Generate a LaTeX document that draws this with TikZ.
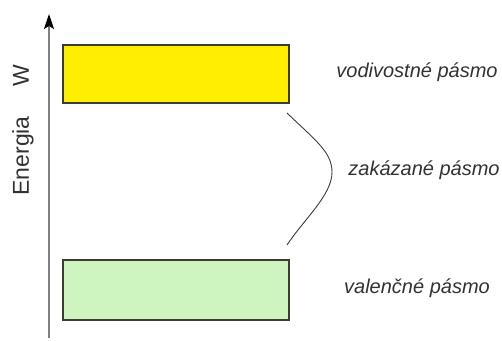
\documentclass[tikz,border=0pt]{standalone}
\usepackage{fontspec}
\setmainfont{Liberation Sans}
\usetikzlibrary{arrows.meta}
\definecolor{bandyellow}{RGB}{255,238,0}
\definecolor{bandgreen}{RGB}{206,245,192}
\definecolor{edgegray}{RGB}{60,60,55}
\definecolor{txtgray}{RGB}{50,50,50}

\begin{document}
\begin{tikzpicture}[x=1pt,y=-1pt,
	band/.style={draw=edgegray, line width=1.1pt, minimum width=226pt, inner sep=0pt},
	lbl/.style={font=\fontsize{20}{24}\selectfont\itshape, text=txtgray, inner sep=0pt}]
	
	\useasboundingbox (0,0) rectangle (502,340);
	
	% os energie
	\coordinate (a0) at (49,338);
	\coordinate (a1) at (49,14);
	\draw [gray, line width=1.3pt, -{Stealth[length=15pt,width=10pt,inset=3pt,black]}] (a0) -- (a1);
	\node [rotate=90, font=\fontsize{23}{26}\selectfont, text=txtgray, inner sep=0pt] (en) at (23,130) {Energia\hspace{30pt}W};
	
	% pasma
	\node [band, fill=bandyellow, minimum height=58pt] (vod) at (176,74) {};
	\node [band, fill=bandgreen, minimum height=60pt] (val) at (176,290) {};
	
	\node [lbl] (tvod) at (417,72) {vodivostné pásmo};
	\node [lbl] (tzak) at (424,170) {zakázané pásmo};
	\node [lbl] (tval) at (417,288) {valenčné pásmo};
	
	% zatvorka
	\coordinate (z0) at (287,113);
	\coordinate (z1) at (332,172);
	\coordinate (z2) at (287,245);
	\draw [edgegray, line width=0.9pt] (z0) .. controls (315,140) and (332,152) .. (z1)
		.. controls (332,195) and (305,218) .. (z2);
\end{tikzpicture}
\end{document}
